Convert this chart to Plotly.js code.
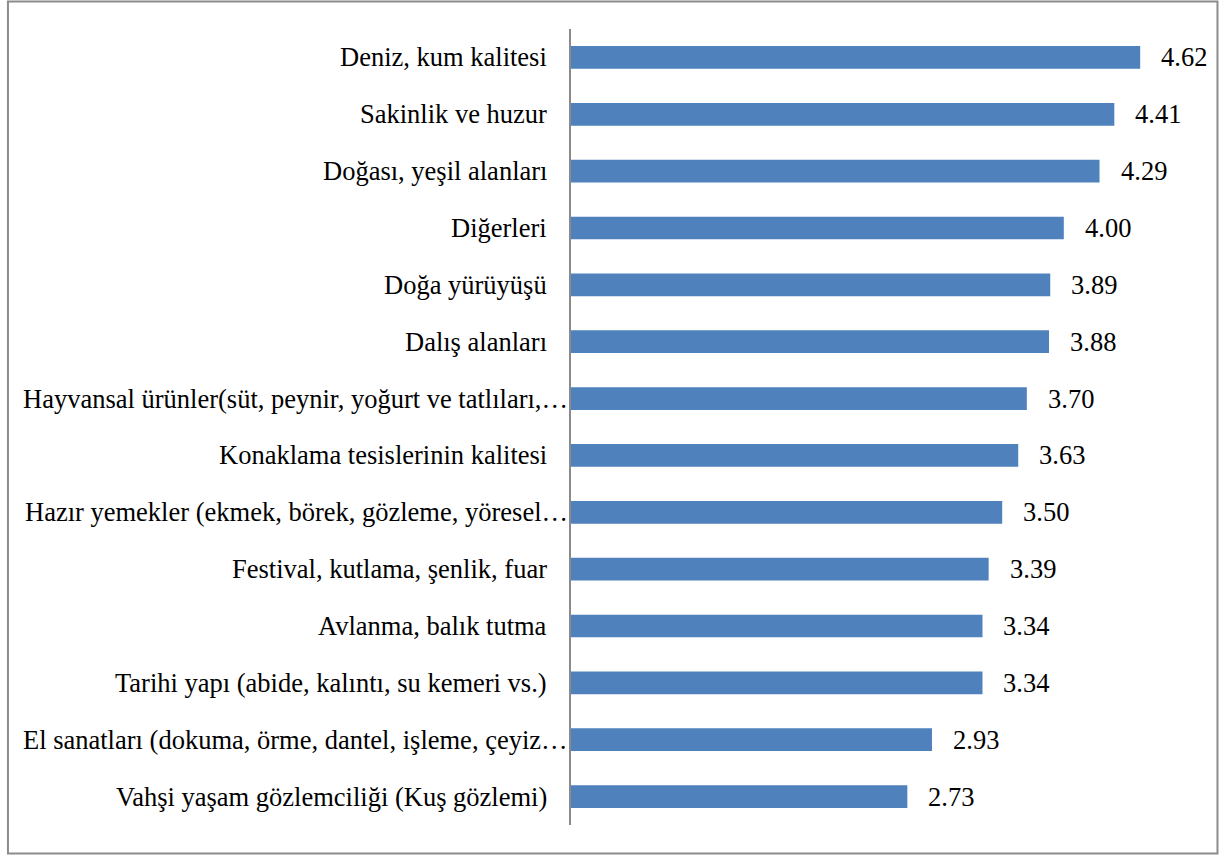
<!DOCTYPE html>
<html>
<head>
<meta charset="utf-8">
<script src="https://cdn.plot.ly/plotly-3.0.1.min.js"></script>
<style>
html,body{margin:0;padding:0;background:#fff;}
#chart{width:1229px;height:856px;}
</style>
</head>
<body>
<div id="chart"></div>
<script>
var categories = [
  "Deniz, kum kalitesi",
  "Sakinlik ve huzur",
  "Doğası, yeşil alanları",
  "Diğerleri",
  "Doğa yürüyüşü",
  "Dalış alanları",
  "Hayvansal ürünler(süt, peynir, yoğurt ve tatlıları,…",
  "Konaklama tesislerinin kalitesi",
  "Hazır yemekler (ekmek, börek, gözleme, yöresel…",
  "Festival, kutlama, şenlik, fuar",
  "Avlanma, balık tutma",
  "Tarihi yapı (abide, kalıntı, su kemeri vs.)",
  "El sanatları (dokuma, örme, dantel, işleme, çeyiz…",
  "Vahşi yaşam gözlemciliği (Kuş gözlemi)"
];
var values = [4.62, 4.41, 4.29, 4.00, 3.89, 3.88, 3.70, 3.63, 3.50, 3.39, 3.34, 3.34, 2.93, 2.73];
var valueLabels = ["4.62","4.41","4.29","4.00","3.89","3.88","3.70","3.63","3.50","3.39","3.34","3.34","2.93","2.73"];

var FONT = 'Liberation Serif, Times New Roman, serif';
var yIdx = categories.map(function(c, i){ return i; });

var annotations = [];
values.forEach(function(v, i){
  annotations.push({
    x: v, y: i, xref: 'x', yref: 'y',
    text: valueLabels[i], showarrow: false,
    xanchor: 'left', yanchor: 'middle', xshift: 19,
    font: {family: FONT, size: 26.5, color: '#000'}
  });
});
categories.forEach(function(c, i){
  var truncated = c.charAt(c.length - 1) === '…';
  annotations.push({
    x: 0, y: i, xref: 'x', yref: 'y',
    text: c, showarrow: false,
    xanchor: 'right', yanchor: 'middle', xshift: truncated ? -1 : -22,
    font: {family: FONT, size: 26.5, color: '#000'}
  });
});

var trace = {
  type: 'bar',
  orientation: 'h',
  x: values,
  y: yIdx,
  marker: {color: '#4F81BD', line: {width: 0}},
  hoverinfo: 'skip'
};

var W = 1229 - 571 - 41.5, H = 856 - 28.5 - 30.5;
var layout = {
  width: 1229, height: 856,
  margin: {l: 571, r: 41.5, t: 28.5, b: 30.5, pad: 0},
  paper_bgcolor: '#ffffff',
  plot_bgcolor: '#ffffff',
  showlegend: false,
  bargap: 0.6,
  font: {family: FONT, size: 26.5, color: '#000'},
  xaxis: {
    range: [0, 5], showgrid: false, zeroline: false,
    showticklabels: false, showline: false, ticks: ''
  },
  yaxis: {
    type: 'linear', range: [13.5, -0.5], showgrid: false, zeroline: false,
    showticklabels: false, ticks: '',
    showline: true, linecolor: '#8a8a8a', linewidth: 2
  },
  annotations: annotations,
  shapes: [{
    type: 'rect', xref: 'paper', yref: 'paper',
    x0: (7.5 - 571) / W, x1: (1218 - 571) / W,
    y0: (856 - 30.5 - 854) / H, y1: (856 - 30.5 - 1) / H,
    line: {color: '#8c8c8c', width: 2}, fillcolor: 'rgba(0,0,0,0)'
  }]
};

Plotly.newPlot('chart', [trace], layout, {staticPlot: true, displayModeBar: false});
</script>
</body>
</html>
